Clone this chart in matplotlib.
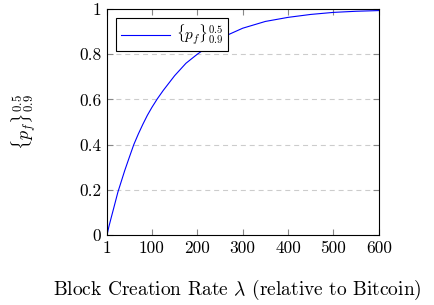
import numpy as np
import matplotlib
matplotlib.use("Agg")
import matplotlib.pyplot as plt

## Data
rate = [1, 5, 10, 15, 25, 40, 50, 60, 70, 80, 90, 100, 112, 125, 150, 175, 200,
        250, 300, 350, 400, 450, 500, 550, 600]
pf = [0.0, 0.036, 0.075, 0.113, 0.19, 0.285, 0.343, 0.4, 0.447, 0.49, 0.53, 0.565,
      0.603, 0.64, 0.705, 0.76, 0.8, 0.87, 0.915, 0.945, 0.963, 0.976, 0.985, 0.99, 0.993]
x_ticks = [1, 100, 200, 300, 400, 500, 600]
y_ticks = [0, 0.2, 0.4, 0.6, 0.8, 1]
y_tick_labels = ["0", "0.2", "0.4", "0.6", "0.8", "1"]
series_label = r"$\{p_f\}^{0.5}_{0.9}$"

plt.rcParams["font.family"] = "serif"
plt.rcParams["font.serif"] = ["cmr10", "DejaVu Serif"]
plt.rcParams["mathtext.fontset"] = "cm"
plt.rcParams["axes.formatter.use_mathtext"] = True

fig = plt.figure(figsize=(4.35, 3.05), dpi=100)
ax = fig.add_axes([0.246, 0.2295, 0.625, 0.741])

ax.plot(rate, pf, color="blue", lw=0.8, label=series_label)

ax.set_xlim(1, 600)
ax.set_ylim(0, 1)
ax.set_xticks(x_ticks)
ax.set_xticklabels([str(t) for t in x_ticks])
ax.set_yticks(y_ticks)
ax.set_yticklabels(y_tick_labels)
ax.tick_params(direction="in", length=4, width=0.8, color="#888888",
               top=True, right=True, labelsize=12.5, pad=4)
for s in ax.spines.values():
    s.set_linewidth(0.8)

for y in y_ticks[1:-1]:
    ax.axhline(y, color="#cccccc", lw=0.8, dashes=(4.5, 3.5), zorder=0)

ax.set_xlabel(r"Block Creation Rate $\lambda$ (relative to Bitcoin)", fontsize=14)
ax.xaxis.set_label_coords(0.478, -0.243)
ax.xaxis.label.set_verticalalignment("center")
ax.set_ylabel(series_label, fontsize=13, labelpad=30)

leg = ax.legend(loc="upper left", fontsize=11, frameon=True, fancybox=False,
                edgecolor="black", framealpha=1, handlelength=3.2,
                borderaxespad=0.6, borderpad=0.3, handletextpad=0.4)
leg.get_frame().set_linewidth(0.8)

fig.savefig("out.png", dpi=100)
